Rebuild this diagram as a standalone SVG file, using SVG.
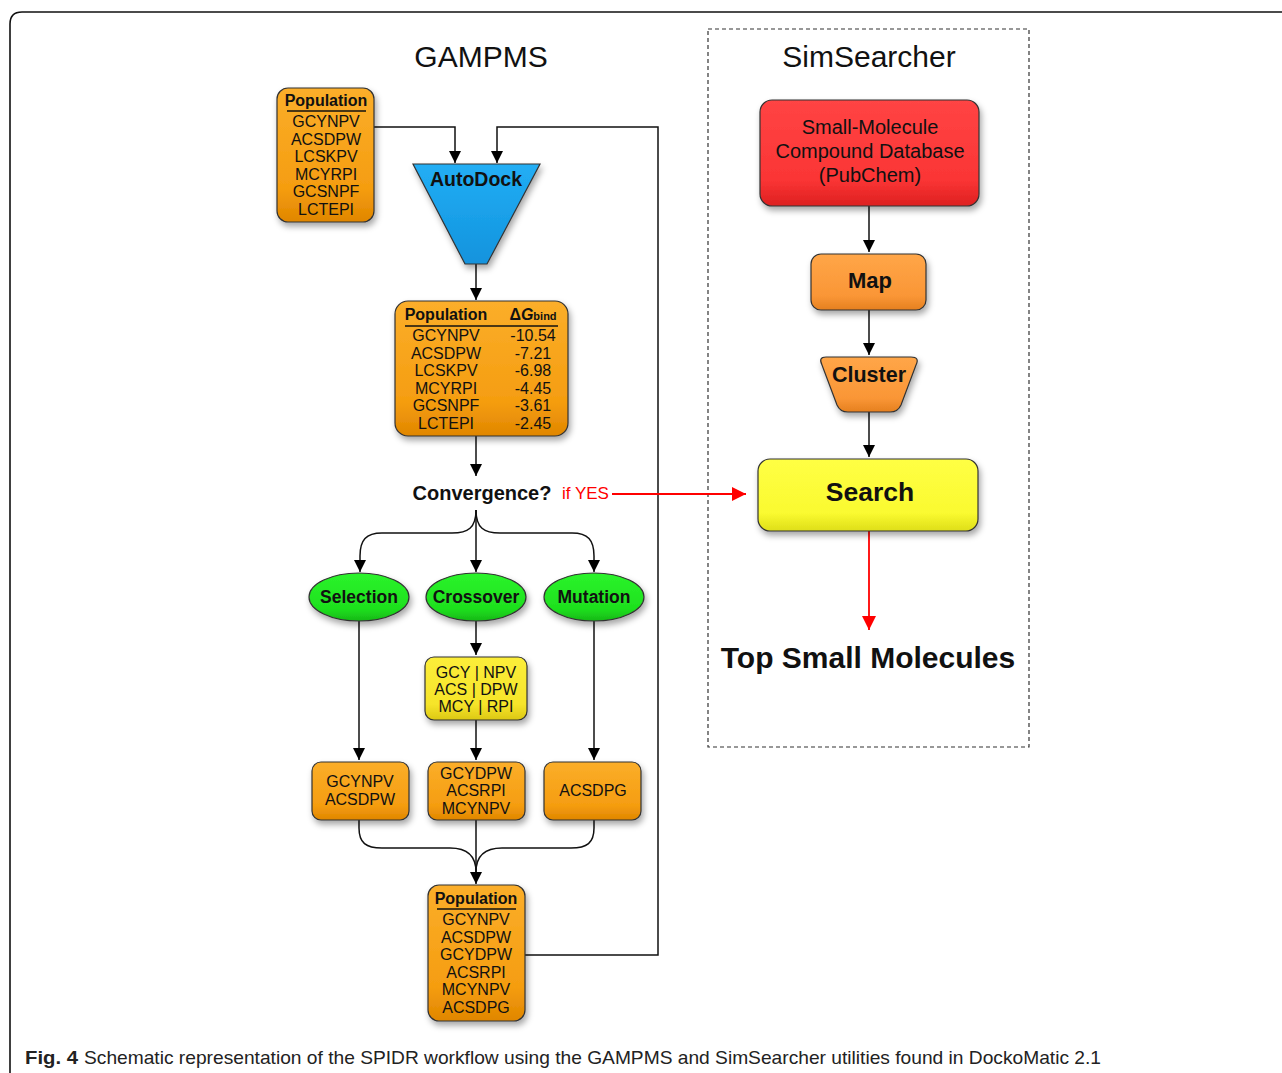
<svg xmlns="http://www.w3.org/2000/svg" width="1282" height="1073" viewBox="0 0 1282 1073">
<defs>
<linearGradient id="gOr" x1="0" y1="0" x2="0" y2="1"><stop offset="0" stop-color="#FBAE2A"/><stop offset="0.75" stop-color="#F59D10"/><stop offset="1" stop-color="#E08600"/></linearGradient>
<linearGradient id="gOr2" x1="0" y1="0" x2="0" y2="1"><stop offset="0" stop-color="#FFA648"/><stop offset="0.75" stop-color="#FA9636"/><stop offset="1" stop-color="#E5801F"/></linearGradient>
<linearGradient id="gBl" x1="0" y1="0" x2="0" y2="1"><stop offset="0" stop-color="#22AEF5"/><stop offset="1" stop-color="#1293DD"/></linearGradient>
<linearGradient id="gGr" x1="0" y1="0" x2="0" y2="1"><stop offset="0" stop-color="#2BF42B"/><stop offset="0.75" stop-color="#1EE01E"/><stop offset="1" stop-color="#17B817"/></linearGradient>
<linearGradient id="gYe" x1="0" y1="0" x2="0" y2="1"><stop offset="0" stop-color="#FCEE3A"/><stop offset="0.75" stop-color="#F6E42A"/><stop offset="1" stop-color="#DCC814"/></linearGradient>
<linearGradient id="gYe2" x1="0" y1="0" x2="0" y2="1"><stop offset="0" stop-color="#FFFF44"/><stop offset="0.75" stop-color="#FAFA30"/><stop offset="1" stop-color="#DEDE18"/></linearGradient>
<linearGradient id="gRd" x1="0" y1="0" x2="0" y2="1"><stop offset="0" stop-color="#FF4444"/><stop offset="0.75" stop-color="#FB3535"/><stop offset="1" stop-color="#DD2020"/></linearGradient>
<filter id="sh" x="-20%" y="-20%" width="140%" height="150%"><feDropShadow dx="2" dy="4" stdDeviation="3" flood-color="#000" flood-opacity="0.35"/></filter>
<marker id="ah" viewBox="0 0 10 10" refX="10" refY="5" markerWidth="12" markerHeight="12" markerUnits="userSpaceOnUse" orient="auto"><path d="M0,0 L10,5 L0,10 z" fill="#000"/></marker>
<marker id="ahr" viewBox="0 0 10 10" refX="10" refY="5" markerWidth="14" markerHeight="14" markerUnits="userSpaceOnUse" orient="auto"><path d="M0,0 L10,5 L0,10 z" fill="#FF0000"/></marker>
</defs>
<style>
text{font-family:"Liberation Sans",Arial,sans-serif;fill:#111;}
.t{font-size:16px;text-anchor:middle;}
.h{font-size:16px;font-weight:bold;}
.b{font-weight:bold;text-anchor:middle;}
.nd{stroke:#333;stroke-width:1.2;filter:url(#sh);}
.c{fill:none;stroke:#111;stroke-width:1.5;}
.ca{fill:none;stroke:#111;stroke-width:1.5;marker-end:url(#ah);}
.cr{fill:none;stroke:#FF0000;stroke-width:1.8;marker-end:url(#ahr);}
.ul{stroke:#111;stroke-width:1.3;}
</style>
<rect width="1282" height="1073" fill="#fff"/>
<path d="M10,1073 V24 Q10,12 22,12 H1282" fill="none" stroke="#111" stroke-width="1.6"/>
<rect x="708" y="29" width="321" height="718" fill="none" stroke="#333" stroke-width="1.2" stroke-dasharray="4,3"/>
<text x="481" y="67" font-size="30" text-anchor="middle">GAMPMS</text>
<text x="869" y="67" font-size="30" text-anchor="middle">SimSearcher</text>

<g id="connectors">
<path class="ca" d="M374,127 H455 V163"/>
<path class="ca" d="M525,955 H658 V127 H497 V163"/>
<path class="ca" d="M476,264 V300"/>
<path class="ca" d="M476,436 V476"/>
<path class="cr" d="M612,494 H746"/>
<path class="ca" d="M476,510 V572"/>
<path class="ca" d="M476,510 C476,528 468,533 452,533 H382 C366,533 360,540 360,556 V572"/>
<path class="ca" d="M476,510 C476,528 484,533 500,533 H572 C588,533 594,540 594,556 V572"/>
<path class="ca" d="M476,621 V655"/>
<path class="ca" d="M359,621 V760"/>
<path class="ca" d="M476,720 V760"/>
<path class="ca" d="M594,621 V760"/>
<path class="c" d="M359,820 V828 C359,843 366,848 382,848 H450 C468,848 476,856 476,872"/>
<path class="c" d="M594,820 V828 C594,843 587,848 571,848 H502 C484,848 476,856 476,872"/>
<path class="ca" d="M476,820 V884"/>
<path class="ca" d="M869,206 V252"/>
<path class="ca" d="M869,310 V355"/>
<path class="ca" d="M869,412 V457"/>
<path class="cr" d="M869,531 V630"/>
</g>

<g id="pop1">
<rect class="nd" x="277" y="88" width="97" height="134" rx="11" fill="url(#gOr)"/>
<text class="h" x="326" y="106" text-anchor="middle">Population</text>
<line class="ul" x1="287" y1="111" x2="366" y2="111"/>
<text class="t" x="326" y="127">GCYNPV</text>
<text class="t" x="326" y="144.5">ACSDPW</text>
<text class="t" x="326" y="162">LCSKPV</text>
<text class="t" x="326" y="179.5">MCYRPI</text>
<text class="t" x="326" y="197">GCSNPF</text>
<text class="t" x="326" y="214.5">LCTEPI</text>
</g>

<g id="autodock">
<path class="nd" d="M413,164 H540 L487,264 H465 Z" fill="url(#gBl)"/>
<text class="b" x="476" y="186" font-size="19.5">AutoDock</text>
</g>

<g id="pop2">
<rect class="nd" x="395" y="301" width="173" height="135" rx="13" fill="url(#gOr)"/>
<text class="h" x="446" y="320" text-anchor="middle">Population</text>
<text class="h" x="533" y="320" text-anchor="middle">Δ<tspan font-style="italic">G</tspan><tspan font-size="11">bind</tspan></text>
<line class="ul" x1="405" y1="326" x2="558" y2="326"/>
<text class="t" x="446" y="341">GCYNPV</text>
<text class="t" x="446" y="358.5">ACSDPW</text>
<text class="t" x="446" y="376">LCSKPV</text>
<text class="t" x="446" y="393.5">MCYRPI</text>
<text class="t" x="446" y="411">GCSNPF</text>
<text class="t" x="446" y="428.5">LCTEPI</text>
<text class="t" x="533" y="341">-10.54</text>
<text class="t" x="533" y="358.5">-7.21</text>
<text class="t" x="533" y="376">-6.98</text>
<text class="t" x="533" y="393.5">-4.45</text>
<text class="t" x="533" y="411">-3.61</text>
<text class="t" x="533" y="428.5">-2.45</text>
</g>

<g id="convergence">
<text class="b" x="482" y="500" font-size="20">Convergence?</text>
<text x="562" y="499" font-size="17" style="fill:#FF0000">if YES</text>
</g>

<g id="selection">
<ellipse class="nd" cx="359" cy="597" rx="50" ry="24" fill="url(#gGr)"/>
<text class="b" x="359" y="603" font-size="17.5">Selection</text>
</g>
<g id="crossover">
<ellipse class="nd" cx="476" cy="597" rx="50" ry="24" fill="url(#gGr)"/>
<text class="b" x="476" y="603" font-size="17.5">Crossover</text>
</g>
<g id="mutation">
<ellipse class="nd" cx="594" cy="597" rx="50" ry="24" fill="url(#gGr)"/>
<text class="b" x="594" y="603" font-size="17.5">Mutation</text>
</g>

<g id="crossbox">
<rect class="nd" x="425" y="657" width="102" height="63" rx="9" fill="url(#gYe)"/>
<text class="t" x="476" y="678">GCY | NPV</text>
<text class="t" x="476" y="695">ACS | DPW</text>
<text class="t" x="476" y="712">MCY | RPI</text>
</g>

<g id="sel-out">
<rect class="nd" x="312" y="762" width="97" height="58" rx="9" fill="url(#gOr)"/>
<text class="t" x="360" y="787">GCYNPV</text>
<text class="t" x="360" y="805">ACSDPW</text>
</g>
<g id="cross-out">
<rect class="nd" x="428" y="762" width="97" height="58" rx="9" fill="url(#gOr)"/>
<text class="t" x="476" y="779">GCYDPW</text>
<text class="t" x="476" y="796">ACSRPI</text>
<text class="t" x="476" y="813.5">MCYNPV</text>
</g>
<g id="mut-out">
<rect class="nd" x="544" y="762" width="97" height="58" rx="9" fill="url(#gOr)"/>
<text class="t" x="593" y="796">ACSDPG</text>
</g>

<g id="pop3">
<rect class="nd" x="428" y="885" width="97" height="136" rx="11" fill="url(#gOr)"/>
<text class="h" x="476" y="904" text-anchor="middle">Population</text>
<line class="ul" x1="437" y1="909" x2="516" y2="909"/>
<text class="t" x="476" y="925">GCYNPV</text>
<text class="t" x="476" y="942.5">ACSDPW</text>
<text class="t" x="476" y="960">GCYDPW</text>
<text class="t" x="476" y="977.5">ACSRPI</text>
<text class="t" x="476" y="995">MCYNPV</text>
<text class="t" x="476" y="1012.5">ACSDPG</text>
</g>

<g id="database">
<rect class="nd" x="760" y="100" width="219" height="106" rx="12" fill="url(#gRd)"/>
<text x="870" y="134" font-size="20" text-anchor="middle">Small-Molecule</text>
<text x="870" y="158" font-size="20" text-anchor="middle">Compound Database</text>
<text x="870" y="182" font-size="20" text-anchor="middle">(PubChem)</text>
</g>
<g id="map">
<rect class="nd" x="811" y="254" width="115" height="56" rx="10" fill="url(#gOr2)"/>
<text class="b" x="870" y="288" font-size="22">Map</text>
</g>
<g id="cluster">
<path class="nd" d="M826,357 H911 Q920,357 916,365 L901,405 Q898,412 890,412 H848 Q840,412 837,405 L822,365 Q818,357 826,357 Z" fill="url(#gOr2)"/>
<text class="b" x="869" y="382" font-size="21.5">Cluster</text>
</g>
<g id="search">
<rect class="nd" x="758" y="459" width="220" height="72" rx="12" fill="url(#gYe2)"/>
<text class="b" x="870" y="501" font-size="26.5">Search</text>
</g>
<g id="top">
<text class="b" x="868" y="668" font-size="30">Top Small Molecules</text>
</g>

<g id="caption">
<text x="25" y="1064" font-size="19" font-weight="bold" textLength="53" lengthAdjust="spacingAndGlyphs" style="fill:#222">Fig. 4</text>
<text x="84" y="1064" font-size="19" textLength="1017" lengthAdjust="spacingAndGlyphs" style="fill:#222">Schematic representation of the SPIDR workflow using the GAMPMS and SimSearcher utilities found in DockoMatic 2.1</text>
</g>
</svg>
